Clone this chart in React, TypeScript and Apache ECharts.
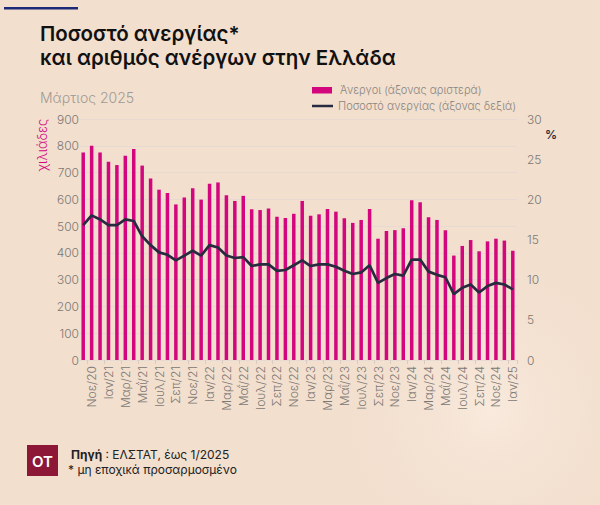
import React, { useEffect, useRef } from "react";
import * as echarts from "echarts";

const categories = [
  "Οκτ/20", "Νοε/20", "Δεκ/20",
  "Ιαν/21", "Φεβ/21", "Μαρ/21", "Απρ/21", "Μαΐ/21", "Ιουν/21", "Ιουλ/21", "Αυγ/21", "Σεπ/21", "Οκτ/21", "Νοε/21", "Δεκ/21",
  "Ιαν/22", "Φεβ/22", "Μαρ/22", "Απρ/22", "Μαΐ/22", "Ιουν/22", "Ιουλ/22", "Αυγ/22", "Σεπ/22", "Οκτ/22", "Νοε/22", "Δεκ/22",
  "Ιαν/23", "Φεβ/23", "Μαρ/23", "Απρ/23", "Μαΐ/23", "Ιουν/23", "Ιουλ/23", "Αυγ/23", "Σεπ/23", "Οκτ/23", "Νοε/23", "Δεκ/23",
  "Ιαν/24", "Φεβ/24", "Μαρ/24", "Απρ/24", "Μαΐ/24", "Ιουν/24", "Ιουλ/24", "Αυγ/24", "Σεπ/24", "Οκτ/24", "Νοε/24", "Δεκ/24",
  "Ιαν/25",
];

const unemployed = [
  775, 800, 775,
  740, 728, 763, 788, 726, 678, 636, 624, 581, 607, 641, 599,
  658, 663, 615, 594, 613, 563, 560, 566, 535, 530, 546, 594,
  539, 544, 564, 554, 529, 512, 523, 564, 453, 482, 485, 492,
  597, 589, 533, 523, 485, 390, 426, 448, 406, 443, 453, 446,
  408,
];

const rate = [
  16.8, 18.0, 17.5,
  16.8, 16.8, 17.5, 17.3, 15.4, 14.3, 13.4, 13.1, 12.4, 13.0, 13.6, 13.0,
  14.3, 14.0, 13.0, 12.7, 12.8, 11.7, 11.9, 11.9, 11.1, 11.2, 11.8, 12.4,
  11.7, 11.9, 11.9, 11.6, 11.1, 10.7, 10.9, 11.8, 9.6, 10.2, 10.7, 10.5,
  12.5, 12.5, 11.0, 10.6, 10.3, 8.2, 9.0, 9.4, 8.4, 9.2, 9.6, 9.4,
  8.8,
];

const seriesNames = ["Άνεργοι (άξονας αριστερά)", "Ποσοστό ανεργίας (άξονας δεξιά)"];

const leftTicks = { min: 0, max: 900, interval: 100 };
const rightTicks = { min: 0, max: 30, interval: 5 };

const FONT = "Inter, 'Noto Sans', sans-serif";
const BAR = "#d4067e";
const LINE = "#272b3f";

export default function App() {
  const ref = useRef<HTMLDivElement>(null);

  useEffect(() => {
    if (!ref.current) return;
    const chart = echarts.init(ref.current, undefined, { renderer: "svg" });
    const showOdd = (i: number) => i % 2 === 1;

    chart.setOption({
      animation: false,
      backgroundColor: "#f2dfce",
      textStyle: { fontFamily: FONT },
      grid: { left: 79, right: 83, top: 119, bottom: 145, containLabel: false },
      xAxis: {
        type: "category",
        data: categories,
        boundaryGap: true,
        axisLine: { show: false },
        axisTick: { show: true, interval: showOdd, length: 4, lineStyle: { color: "#d8cbc2" } },
        axisLabel: {
          interval: showOdd,
          rotate: 90,
          color: "#7c7874",
          fontSize: 12,
          fontWeight: 300,
          margin: 6,
          fontFamily: FONT,
        },
      },
      yAxis: [
        {
          type: "value",
          min: leftTicks.min,
          max: leftTicks.max,
          interval: leftTicks.interval,
          axisLine: { show: false },
          axisTick: { show: false },
          axisLabel: { color: "#7c7874", fontSize: 12, fontWeight: 300, margin: 0, fontFamily: FONT },
          splitLine: { show: true, lineStyle: { color: "#e6dad3", width: 1 } },
        },
        {
          type: "value",
          min: rightTicks.min,
          max: rightTicks.max,
          interval: rightTicks.interval,
          position: "right",
          axisLine: { show: false },
          axisTick: { show: false },
          axisLabel: { color: "#7c7874", fontSize: 12, fontWeight: 300, margin: 10, fontFamily: FONT },
          splitLine: { show: false },
        },
      ],
      series: [
        {
          name: seriesNames[0],
          type: "bar",
          yAxisIndex: 0,
          data: unemployed,
          barWidth: 3.5,
          itemStyle: { color: BAR },
        },
        {
          name: seriesNames[1],
          type: "line",
          yAxisIndex: 1,
          data: rate,
          symbol: "none",
          lineStyle: { color: LINE, width: 2.7 },
          itemStyle: { color: LINE },
          z: 5,
        },
      ],
      graphic: [
        {
          type: "circle",
          shape: { cx: 490, cy: 410, r: 170 },
          style: {
            fill: new echarts.graphic.RadialGradient(0.5, 0.5, 0.5, [
              { offset: 0, color: "rgba(250,236,224,0.85)" },
              { offset: 1, color: "rgba(242,223,206,0)" },
            ]),
          },
          z: -10,
          silent: true,
        },
        {
          type: "rect",
          shape: { x: 4, y: 7, width: 74, height: 2.5 },
          style: { fill: "#1d2a78" },
        },
        {
          type: "text",
          x: 40,
          y: 33.5,
          style: {
            text: "Ποσοστό ανεργίας*",
            fill: "#111111",
            font: `600 20.5px ${FONT}`,
            verticalAlign: "middle",
          },
        },
        {
          type: "text",
          x: 40,
          y: 57,
          style: {
            text: "και αριθμός ανέργων στην Ελλάδα",
            fill: "#111111",
            font: `600 20.5px ${FONT}`,
            verticalAlign: "middle",
          },
        },
        {
          type: "text",
          x: 40,
          y: 97,
          style: {
            text: "Μάρτιος 2025",
            fill: "#a09a95",
            font: `300 14px ${FONT}`,
            verticalAlign: "middle",
          },
        },
        // legend
        {
          type: "rect",
          shape: { x: 312, y: 87, width: 20, height: 6.5 },
          style: { fill: BAR },
        },
        {
          type: "text",
          x: 340,
          y: 90,
          style: {
            text: seriesNames[0],
            fill: "#8a8580",
            font: `300 11px ${FONT}`,
            verticalAlign: "middle",
          },
        },
        {
          type: "line",
          shape: { x1: 312, y1: 106, x2: 333, y2: 106 },
          style: { stroke: LINE, lineWidth: 2.5 },
        },
        {
          type: "text",
          x: 338,
          y: 106,
          style: {
            text: seriesNames[1],
            fill: "#8a8580",
            font: `300 11px ${FONT}`,
            verticalAlign: "middle",
          },
        },
        {
          type: "text",
          x: 42,
          y: 145,
          rotation: Math.PI / 2,
          style: {
            text: "χιλιάδες",
            fill: BAR,
            font: `300 13px ${FONT}`,
            align: "center",
            verticalAlign: "middle",
          },
        },
        {
          type: "text",
          x: 551,
          y: 134,
          style: {
            text: "%",
            fill: LINE,
            font: `600 12px ${FONT}`,
            align: "center",
            verticalAlign: "middle",
          },
        },
        {
          type: "rect",
          shape: { x: 27, y: 445, width: 31, height: 31 },
          style: { fill: "#8c1736" },
        },
        {
          type: "text",
          x: 42.5,
          y: 461,
          style: {
            text: "OT",
            fill: "#ffffff",
            font: `600 15px ${FONT}`,
            align: "center",
            verticalAlign: "middle",
          },
        },
        {
          type: "text",
          x: 71,
          y: 454,
          style: {
            text: "{b|Πηγή} : ΕΛΣΤΑΤ, έως 1/2025",
            fill: "#222222",
            font: `400 12px ${FONT}`,
            verticalAlign: "middle",
            rich: {
              b: { fontWeight: 700, fontSize: 12, fill: "#222222", fontFamily: FONT },
            },
          },
        },
        {
          type: "text",
          x: 68,
          y: 469,
          style: {
            text: "* μη εποχικά προσαρμοσμένο",
            fill: "#222222",
            font: `400 12px ${FONT}`,
            verticalAlign: "middle",
          },
        },
      ],
    });

    return () => chart.dispose();
  }, []);

  return (
    <div
      ref={ref}
      style={{ position: "fixed", left: 0, top: 0, width: 600, height: 505 }}
    />
  );
}
